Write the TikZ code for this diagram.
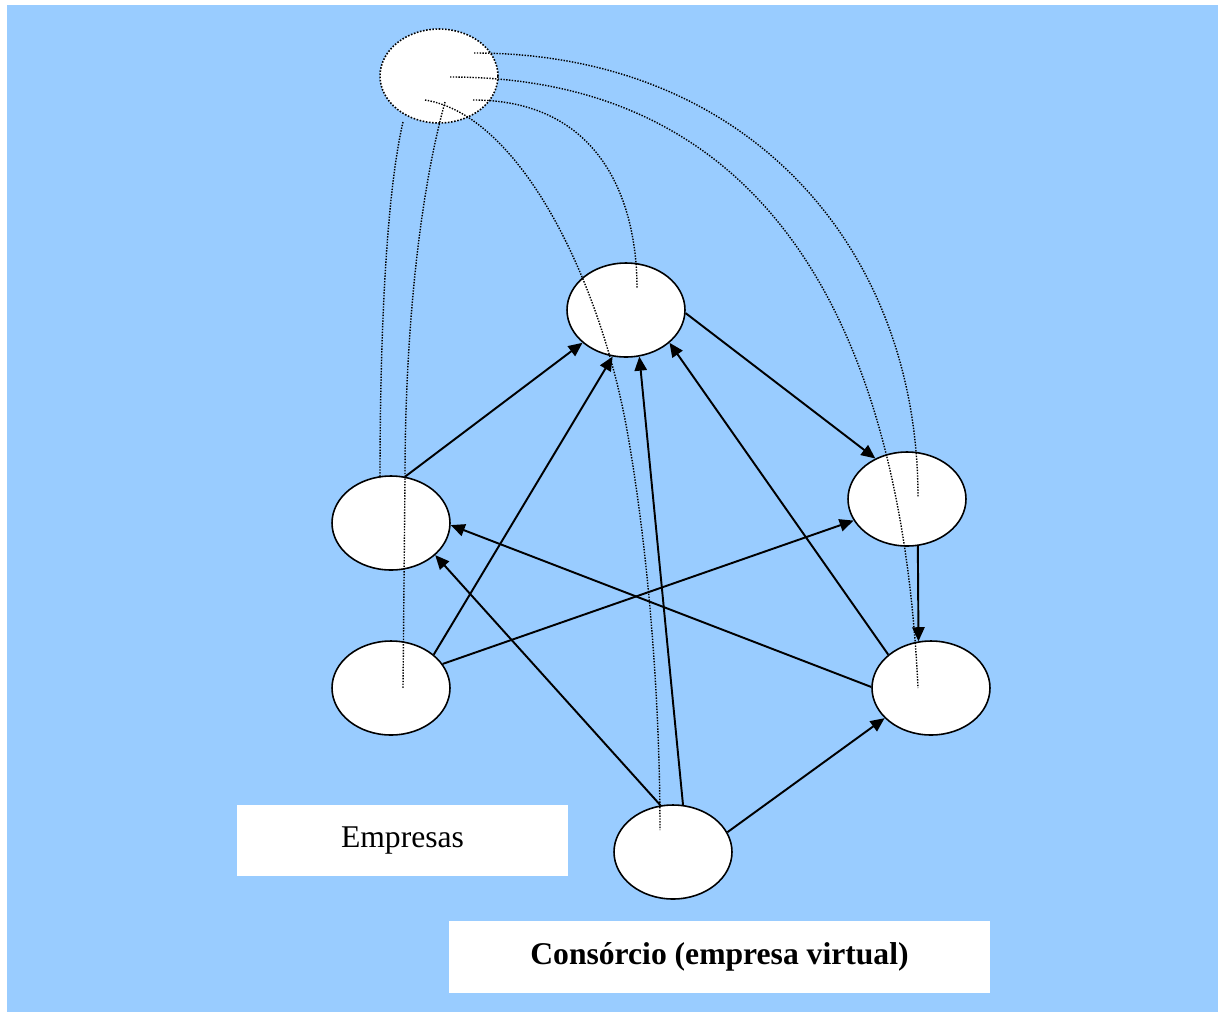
\documentclass[tikz,border=0pt]{standalone}
\usepackage{fontspec}
\setmainfont{Liberation Serif}
\usetikzlibrary{arrows.meta,calc,shapes.geometric}
\definecolor{fundo}{RGB}{153,204,255}
\tikzset{empresa/.style={ellipse,draw,fill=white,line width=0.9pt,minimum width=2.36cm,minimum height=1.88cm,inner sep=0pt},
  legenda/.style={fill=white,inner sep=0pt,font=\fontsize{18}{22}\selectfont},
  elo/.style={line width=1.1pt,-{Triangle[length=8pt,width=7pt]}},
  laco/.style={line width=0.8pt,dash pattern=on 0.8pt off 0.8pt}}

\begin{document}
\begin{tikzpicture}[x=0.02cm,y=-0.02cm]
\useasboundingbox (0,0) rectangle (1218,1012);
\fill[fundo] (7,5) rectangle (1218,1012);

\node[legenda,minimum width=6.62cm,minimum height=1.42cm] (empresas) at (402.5,840.5) {Empresas};
\node[legenda,minimum width=10.82cm,minimum height=1.44cm,font=\fontsize{18}{22}\selectfont\bfseries] (consorcio) at (719.5,957) {Consórcio (empresa virtual)};

\node[empresa,dash pattern=on 0.9pt off 0.9pt] (topo) at (439,76) {};
\node[empresa] (centro) at (626,310) {};
\node[empresa] (esqA) at (391,523) {};
\node[empresa] (dirA) at (907,499) {};
\node[empresa] (esqB) at (391,688) {};
\node[empresa] (dirB) at (931,688) {};
\node[empresa] (virtual) at (673,852) {};

% lacos pontilhados a partir do topo
\draw[laco] ($(topo)+(35,-23)$) .. controls +(276,0) and +(0,-247) .. ($(dirA)+(11,-2)$);
\draw[laco] ($(topo)+(11,1)$) .. controls +(300,0) and +(-18,-388) .. ($(dirB)+(-13,0)$);
\draw[laco] ($(topo)+(34,24)$) .. controls +(127,0) and +(0,-88) .. ($(centro)+(11,-22)$);
\draw[laco] ($(topo)+(-14,24)$) .. controls +(95,15) and +(-27,-150) .. (627,430)
  .. controls +(23,130) and +(0,-120) .. ($(virtual)+(-13,-22)$);
\draw[laco] ($(topo)+(-36,46)$) .. controls +(-18,78) and +(0,-128) .. ($(esqA)+(-11,-45)$);
\draw[laco] ($(topo)+(6,26)$) .. controls +(-27,98) and +(0,-138) .. ($(esqA)+(14,-45)$) -- ($(esqB)+(12,0)$);

% setas
\draw[elo] (esqA.73) -- (centro.217);
\draw[elo] (esqB.38) -- (centro.254);
\draw[elo] (virtual.78) -- (centro.286);
\draw[elo] (dirB.142) -- (centro.323);
\draw[elo] (centro.357) -- (dirA.128);
\draw[elo] (dirA.283) -- (dirB.105);
\draw[elo] (esqB.25) -- (dirA.202);
\draw[elo] (dirB.179) -- (esqA.358);
\draw[elo] (virtual.105) -- (esqA.324);
\draw[elo] (virtual.20) -- (dirB.213);
\end{tikzpicture}
\end{document}
